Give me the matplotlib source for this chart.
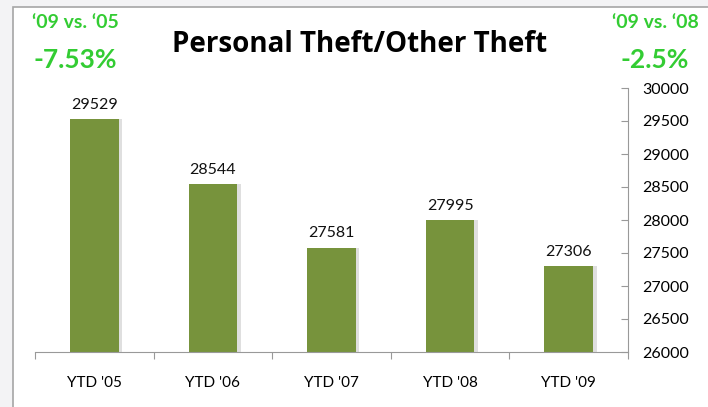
import matplotlib.pyplot as plt
from matplotlib.patches import Rectangle

years = ["YTD '05", "YTD '06", "YTD '07", "YTD '08", "YTD '09"]
thefts = [29529, 28544, 27581, 27995, 27306]
yticks = [26000, 26500, 27000, 27500, 28000, 28500, 29000, 29500, 30000]

plt.rcParams['font.family'] = ['Open Sans', 'DejaVu Sans']

fig = plt.figure(figsize=(7.08, 4.07), dpi=100)
fig.patch.set_facecolor('#f3f3f5')

# white chart box with a grey frame
fig.patches.append(Rectangle((13 / 708, -0.01), 1, 1 - 7 / 407 + 0.01, transform=fig.transFigure,
                             facecolor='white', edgecolor='#a6a6a6', lw=1.2, zorder=-5))

ax = fig.add_axes([35 / 708, 1 - 352 / 407, (628 - 35) / 708, (352 - 88) / 407])
ax.set_facecolor('none')
ax.set_zorder(2)

x = range(len(years))
# soft shadow then the bars
ax.bar([i + 0.03 for i in x], [v - 26000 for v in thefts], bottom=26000, width=0.41,
       color='#c0c0c0', alpha=0.5, zorder=1)
ax.bar(x, [v - 26000 for v in thefts], bottom=26000, width=0.41, color='#77933c', zorder=2)

for i, v in zip(x, thefts):
    ax.text(i, v + 110, str(v), ha='center', va='bottom', fontsize=11.5, color='#111111',
            family=['Lato', 'DejaVu Sans'])

ax.set_ylim(26000, 30000)
ax.set_xlim(-0.5, 4.5)
ax.set_yticks(yticks)
ax.yaxis.tick_right()
ax.tick_params(axis='y', direction='in', length=5, color='#999999', labelsize=11.5, pad=10)
for t in ax.get_yticklabels():
    t.set_family(['Lato', 'DejaVu Sans'])
ax.set_xticks([i - 0.5 for i in range(6)], minor=False)
ax.set_xticklabels([])
ax.set_xticks(list(x), minor=True)
ax.set_xticklabels(years, minor=True, fontsize=11, family=['Lato', 'DejaVu Sans'])
ax.tick_params(axis='x', which='major', direction='out', length=5, color='#999999')
ax.tick_params(axis='x', which='minor', length=0, pad=17)

for s in ['top', 'left']:
    ax.spines[s].set_visible(False)
ax.spines['right'].set_color('#999999')
ax.spines['bottom'].set_color('#999999')

fig.text(360 / 708, 1 - 45 / 407, 'Personal Theft/Other Theft', ha='center', va='center',
         fontsize=20, fontweight='bold', family=['Open Sans', 'DejaVu Sans'])

green = '#33cc33'
fig.text(75 / 708, 1 - 22 / 407, '\u201809 vs. \u201805', ha='center', va='center',
         fontsize=14, fontweight='bold', color=green, family=['Lato', 'DejaVu Sans'])
fig.text(75 / 708, 1 - 60 / 407, '-7.53%', ha='center', va='center',
         fontsize=19, fontweight='bold', color=green, family=['Lato', 'DejaVu Sans'])
fig.text(655 / 708, 1 - 22 / 407, '\u201809 vs. \u201808', ha='center', va='center',
         fontsize=14, fontweight='bold', color=green, family=['Lato', 'DejaVu Sans'])
fig.text(655 / 708, 1 - 60 / 407, '-2.5%', ha='center', va='center',
         fontsize=19, fontweight='bold', color=green, family=['Lato', 'DejaVu Sans'])

fig.savefig('out.png', dpi=100)
